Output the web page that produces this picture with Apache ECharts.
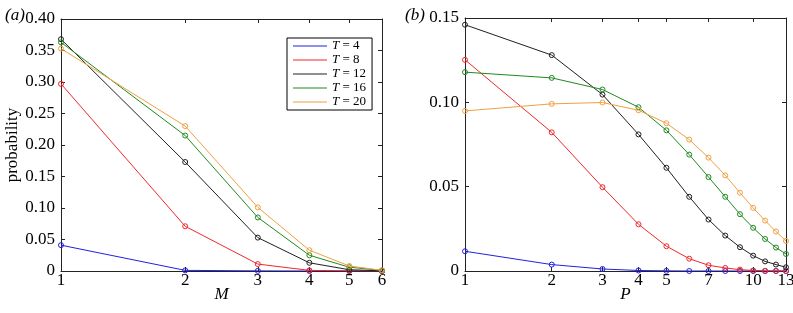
<!DOCTYPE html>
<html><head><meta charset="utf-8">
<script src="https://cdn.jsdelivr.net/npm/echarts@6/dist/echarts.min.js"></script>
<style>html,body{margin:0;padding:0;background:#fff}#c{width:793px;height:313px}</style>
</head><body><div id="c"></div>
<script>
const names = ['T = 4', 'T = 8', 'T = 12', 'T = 16', 'T = 20'];
const colors = ['#2020e0', '#f02828', '#202020', '#1f8a1f', '#f0a040'];
const M = [1, 2, 3, 4, 5, 6];
const P = [1, 2, 3, 4, 5, 6, 7, 8, 9, 10, 11, 12, 13];
const aT4  = [0.041, 0.001, 0.0002, 0, 0, 0];
const aT8  = [0.297, 0.071, 0.011, 0.001, 0.0003, 0];
const aT12 = [0.368, 0.173, 0.053, 0.013, 0.002, 0.0003];
const aT16 = [0.363, 0.215, 0.085, 0.025, 0.006, 0.001];
const aT20 = [0.353, 0.230, 0.101, 0.033, 0.008, 0.001];
const bT4  = [0.0117, 0.0038, 0.0012, 0.0003, 0.0001, 0, 0, 0, 0, 0, 0, 0, 0];
const bT8  = [0.1252, 0.0822, 0.0497, 0.0277, 0.0147, 0.0073, 0.0034, 0.0018, 0.0008, 0.0003, 0.0001, 0, 0];
const bT12 = [0.146, 0.128, 0.1046, 0.081, 0.0612, 0.044, 0.0305, 0.021, 0.0141, 0.0091, 0.0057, 0.0038, 0.0022];
const bT16 = [0.1179, 0.1145, 0.1076, 0.0971, 0.0834, 0.069, 0.0557, 0.044, 0.0337, 0.0256, 0.019, 0.0139, 0.0101];
const bT20 = [0.0949, 0.0991, 0.0999, 0.0953, 0.0876, 0.0779, 0.0672, 0.0567, 0.0464, 0.0374, 0.0299, 0.0234, 0.0178];
const ticksM = [1, 2, 3, 4, 5, 6];
const ticksP = [1, 2, 3, 4, 5, 7, 10, 13];

const aData = [aT4, aT8, aT12, aT16, aT20];
const bData = [bT4, bT8, bT12, bT16, bT20];
const FONT = 'Liberation Serif';
const AX = '#222';

function xAxisDef(gi, max, ticks, name, top) {
  return {
    type: 'log', gridIndex: gi, min: 1, max: max, logBase: 10,
    position: top ? 'top' : 'bottom',
    name: top ? '' : name, nameLocation: 'middle', nameGap: 15, nameMoveOverlap: false,
    nameTextStyle: { fontFamily: FONT, fontSize: 17, fontStyle: 'italic', color: '#000' },
    axisLine: { show: true, onZero: false, lineStyle: { color: AX, width: 1 } },
    axisTick: { show: true, inside: true, length: 4, customValues: ticks, lineStyle: { color: AX } },
    axisLabel: { show: !top, customValues: ticks, margin: 1, fontFamily: FONT, fontSize: 17, color: '#000' },
    splitLine: { show: false }, minorTick: { show: false }
  };
}
function yAxisDef(gi, max, right, name) {
  return {
    type: 'value', gridIndex: gi, min: 0, max: max, interval: 0.05,
    position: right ? 'right' : 'left',
    name: right ? '' : name, nameLocation: 'middle', nameGap: 40,
    nameTextStyle: { fontFamily: FONT, fontSize: 17, color: '#000' },
    axisLine: { show: true, onZero: false, lineStyle: { color: AX, width: 1 } },
    axisTick: { show: true, inside: true, length: 4, lineStyle: { color: AX } },
    axisLabel: { show: !right, margin: 6, fontFamily: FONT, fontSize: 17, color: '#000',
      formatter: v => v === 0 ? '0' : v.toFixed(2) },
    splitLine: { show: false }
  };
}

const series = [];
names.forEach((n, i) => {
  series.push({
    type: 'line', name: n, xAxisIndex: 0, yAxisIndex: 0,
    data: M.map((m, k) => [m, aData[i][k]]),
    symbol: 'circle', symbolSize: 5,
    lineStyle: { color: colors[i], width: 1 },
    itemStyle: { color: 'rgba(0,0,0,0)', borderColor: colors[i], borderWidth: 1 },
    emphasis: { disabled: true }, z: 2 + i
  });
  series.push({
    type: 'line', name: n, xAxisIndex: 2, yAxisIndex: 2,
    data: P.map((p, k) => [p, bData[i][k]]),
    symbol: 'circle', symbolSize: 5,
    lineStyle: { color: colors[i], width: 1 },
    itemStyle: { color: 'rgba(0,0,0,0)', borderColor: colors[i], borderWidth: 1 },
    emphasis: { disabled: true }, z: 2 + i
  });
});

const chart = echarts.init(document.getElementById('c'), null, { renderer: 'canvas' });
chart.setOption({
  animation: false,
  backgroundColor: '#fff',
  textStyle: { fontFamily: FONT },
  title: [
    { text: '(a)', left: 0, top: 2, textStyle: { fontFamily: FONT, fontSize: 17, fontStyle: 'italic', fontWeight: 'normal', color: '#000' } },
    { text: '(b)', left: 400, top: 2, textStyle: { fontFamily: FONT, fontSize: 17, fontStyle: 'italic', fontWeight: 'normal', color: '#000' } }
  ],
  grid: [
    { left: 61, top: 19, width: 321, height: 252, outerBoundsMode: 'none', containLabel: false },
    { left: 465, top: 18, width: 321, height: 253, outerBoundsMode: 'none', containLabel: false }
  ],
  xAxis: [
    xAxisDef(0, 6, ticksM, 'M', false),
    xAxisDef(0, 6, ticksM, 'M', true),
    xAxisDef(1, 13, ticksP, 'P', false),
    xAxisDef(1, 13, ticksP, 'P', true)
  ],
  yAxis: [
    yAxisDef(0, 0.4, false, 'probability'),
    yAxisDef(0, 0.4, true, ''),
    yAxisDef(1, 0.15, false, ''),
    yAxisDef(1, 0.15, true, '')
  ],
  legend: {
    orient: 'vertical', left: 287, top: 38,
    padding: [1, 6, 1, 6], itemGap: 0,
    itemWidth: 34, itemHeight: 1, icon: 'rect',
    borderColor: '#000', borderWidth: 1, backgroundColor: '#fff',
    selectedMode: false,
    data: names.map((n, i) => ({ name: n, itemStyle: { color: colors[i], borderWidth: 0 } })),
    formatter: n => '{i|T}' + n.slice(1),
    textStyle: { fontFamily: FONT, fontSize: 13, color: '#000', lineHeight: 14,
      rich: { i: { fontFamily: FONT, fontSize: 13, fontStyle: 'italic', color: '#000', lineHeight: 14 } } }
  },
  series: series
});
</script>
</body></html>
